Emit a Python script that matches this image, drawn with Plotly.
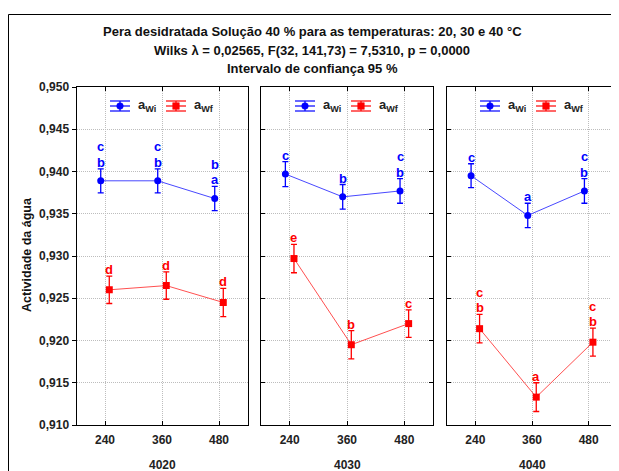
import plotly.graph_objects as go

# ---------------- data ----------------
categories = ["240", "360", "480"]
panels = ["4020", "4030", "4040"]

awi_4020 = [0.9389, 0.9389, 0.9368]
awi_ci_4020 = [0.00142, 0.00142, 0.00144]
awf_4020 = [0.9260, 0.9265, 0.9245]
awf_ci_4020 = [0.00162, 0.00162, 0.00168]

awi_4030 = [0.9397, 0.9370, 0.9377]
awi_ci_4030 = [0.00148, 0.00146, 0.00146]
awf_4030 = [0.9297, 0.9195, 0.9220]
awf_ci_4030 = [0.00168, 0.00168, 0.00162]

awi_4040 = [0.9395, 0.9348, 0.9377]
awi_ci_4040 = [0.00142, 0.00144, 0.00146]
awf_4040 = [0.9214, 0.9133, 0.9198]
awf_ci_4040 = [0.00168, 0.00170, 0.00166]

# homogeneous-group letters, listed bottom to top
letters_awi_4020 = [["b", "c"], ["b", "c"], ["a", "b"]]
letters_awf_4020 = [["d"], ["d"], ["d"]]
letters_awi_4030 = [["c"], ["b"], ["b", "c"]]
letters_awf_4030 = [["e"], ["b"], ["c"]]
letters_awi_4040 = [["c"], ["a"], ["b", "c"]]
letters_awf_4040 = [["b", "c"], ["a"], ["b", "c"]]

yticks = [0.910, 0.915, 0.920, 0.925, 0.930, 0.935, 0.940, 0.945, 0.950]

title_lines = [
    "Pera desidratada Solução 40 % para as temperaturas: 20, 30 e 40 °C",
    "Wilks λ = 0,02565, F(32, 141,73) = 7,5310, p = 0,0000",
    "Intervalo de confiança 95 %",
]
y_title = "Actividade da água"
name_wi = "a<sub>Wi</sub>"
name_wf = "a<sub>Wf</sub>"

# ---------------- layout helpers ----------------
# the page body has an 8px margin, so the figure starts at (8, 8) in the window
OX, OY = 8, 8
W, H = 619 - OX, 471 - OY
PLOT_L, PLOT_R, PLOT_T, PLOT_B = 76, 617, 87, 425   # window pixels
ML, MR, MT, MB = PLOT_L - OX, (W + OX) - PLOT_R, PLOT_T - OY, (H + OY) - PLOT_B
PW, PH = W - ML - MR, H - MT - MB


def px2x(px):
    return (px - PLOT_L) / PW


def py2y(py):
    return (PLOT_B - py) / PH


BLUE = "#0000ff"
RED = "#ff0000"
BLUE_LINE = "#4848ff"
RED_LINE = "#ff5050"
FONT = "Liberation Sans, Arial, sans-serif"
OFF = 0.075

panel_px = [(76.5, 247.5), (261, 433), (447, 617)]
data = [
    (awi_4020, awi_ci_4020, awf_4020, awf_ci_4020, letters_awi_4020, letters_awf_4020),
    (awi_4030, awi_ci_4030, awf_4030, awf_ci_4030, letters_awi_4030, letters_awf_4030),
    (awi_4040, awi_ci_4040, awf_4040, awf_ci_4040, letters_awi_4040, letters_awf_4040),
]

fig = go.Figure()
annotations = []
shapes = []
idx = list(range(len(categories)))

for p, (wi, wici, wf, wfci, lwi, lwf) in enumerate(data):
    xa = "x" if p == 0 else f"x{p+1}"
    ya = "y" if p == 0 else f"y{p+1}"
    xs_i = [i - OFF for i in idx]
    xs_f = [i + OFF for i in idx]
    fig.add_trace(go.Scatter(
        x=xs_i, y=wi, xaxis=xa, yaxis=ya, mode="lines+markers",
        line=dict(color=BLUE_LINE, width=1),
        marker=dict(color=BLUE, size=7, symbol="circle"),
        error_y=dict(type="data", array=wici, visible=True, color=BLUE,
                     thickness=1.3, width=3),
        showlegend=False, name="awi"))
    fig.add_trace(go.Scatter(
        x=xs_f, y=wf, xaxis=xa, yaxis=ya, mode="lines+markers",
        line=dict(color=RED_LINE, width=1),
        marker=dict(color=RED, size=7, symbol="square"),
        error_y=dict(type="data", array=wfci, visible=True, color=RED,
                     thickness=1.3, width=3),
        showlegend=False, name="awf"))
    for xs, ys, cis, labs, col in ((xs_i, wi, wici, lwi, BLUE), (xs_f, wf, wfci, lwf, RED)):
        for xv, yv, cv, lab in zip(xs, ys, cis, labs):
            for k, letter in enumerate(lab):
                annotations.append(dict(
                    x=xv, y=yv + cv, xref=xa, yref=ya, text=letter, showarrow=False,
                    yanchor="bottom", xanchor="center", yshift=-3 + 15.5 * k,
                    font=dict(family=FONT, size=13, color=col, weight="bold")))

    # panel category label
    x0, x1 = panel_px[p]
    cx = (x0 + x1) / 2
    annotations.append(dict(
        x=px2x(cx), y=py2y(465), xref="paper", yref="paper", text=panels[p],
        showarrow=False, xanchor="center", yanchor="middle",
        font=dict(family=FONT, size=12, color="#222222", weight="bold")))

    # custom legend per panel
    for sx0, tx, col, sym, nm in ((cx - 52, cx - 26, BLUE, "circle", name_wi),
                                  (cx + 4, cx + 30, RED, "rect", name_wf)):
        sx1 = sx0 + 20
        for ly in (101, 106, 111):
            shapes.append(dict(type="line", xref="paper", yref="paper",
                               x0=px2x(sx0), x1=px2x(sx1), y0=py2y(ly), y1=py2y(ly),
                               line=dict(color=col, width=1.2)))
        mx = (sx0 + sx1) / 2
        shapes.append(dict(type="line", xref="paper", yref="paper",
                           x0=px2x(mx), x1=px2x(mx), y0=py2y(101), y1=py2y(111),
                           line=dict(color=col, width=1.2)))
        r = 3.3
        shapes.append(dict(type=sym, xref="paper", yref="paper",
                           x0=px2x(mx - r), x1=px2x(mx + r), y0=py2y(106 + r), y1=py2y(106 - r),
                           fillcolor=col, line=dict(color=col, width=0.5)))
        annotations.append(dict(
            x=px2x(tx), y=py2y(106), xref="paper", yref="paper", text=nm,
            showarrow=False, xanchor="left", yanchor="middle",
            font=dict(family=FONT, size=13, color="#222222", weight="bold")))

# title lines
for line, py in zip(title_lines, (31, 50, 69)):
    annotations.append(dict(
        x=px2x(312), y=py2y(py), xref="paper", yref="paper", text=line,
        showarrow=False, xanchor="center", yanchor="middle",
        font=dict(family=FONT, size=13, color="#111111", weight="bold")))

# y-axis title
annotations.append(dict(
    x=px2x(27), y=py2y(255), xref="paper", yref="paper", text=y_title,
    showarrow=False, textangle=-90, xanchor="center", yanchor="middle",
    font=dict(family=FONT, size=12.5, color="#111111", weight="bold")))

# outer frame
shapes.append(dict(type="rect", xref="paper", yref="paper",
                   x0=px2x(8.5), x1=px2x(640), y0=py2y(520), y1=py2y(14.5),
                   line=dict(color="black", width=1), fillcolor="rgba(0,0,0,0)", layer="below"))

axis_common = dict(
    showline=True, linecolor="black", linewidth=1, mirror="ticks",
    showgrid=True, gridcolor="#bdbdbd", griddash="1px,1px", gridwidth=1,
    zeroline=False, ticks="inside", ticklen=4, tickcolor="black",
)

layout = dict(
    width=W, height=H,
    margin=dict(l=ML, r=MR, t=MT, b=MB),
    paper_bgcolor="white", plot_bgcolor="white",
    separators=",.",
    showlegend=False,
    annotations=annotations,
    shapes=shapes,
)

for p in range(3):
    x0, x1 = panel_px[p]
    xk = "xaxis" if p == 0 else f"xaxis{p+1}"
    yk = "yaxis" if p == 0 else f"yaxis{p+1}"
    layout[xk] = dict(
        axis_common, domain=[max(0, px2x(x0)), min(1, px2x(x1))],
        range=[-0.5, 2.5], tickvals=idx, ticktext=categories,
        anchor="y" if p == 0 else f"y{p+1}",
        tickfont=dict(family=FONT, size=12, color="#222222", weight="bold"),
        ticklabelstandoff=4,
    )
    yd = dict(
        axis_common, domain=[0, 1], range=[0.910, 0.950],
        tickvals=yticks, tickformat=".3f",
        anchor="x" if p == 0 else f"x{p+1}",
        tickfont=dict(family=FONT, size=12, color="#222222", weight="bold"),
    )
    if p == 0:
        yd["ticks"] = "outside"
        yd["mirror"] = True
    else:
        yd["showticklabels"] = False
        yd["matches"] = "y"
    layout[yk] = yd

fig.update_layout(**layout)
fig.write_html("out.html")
